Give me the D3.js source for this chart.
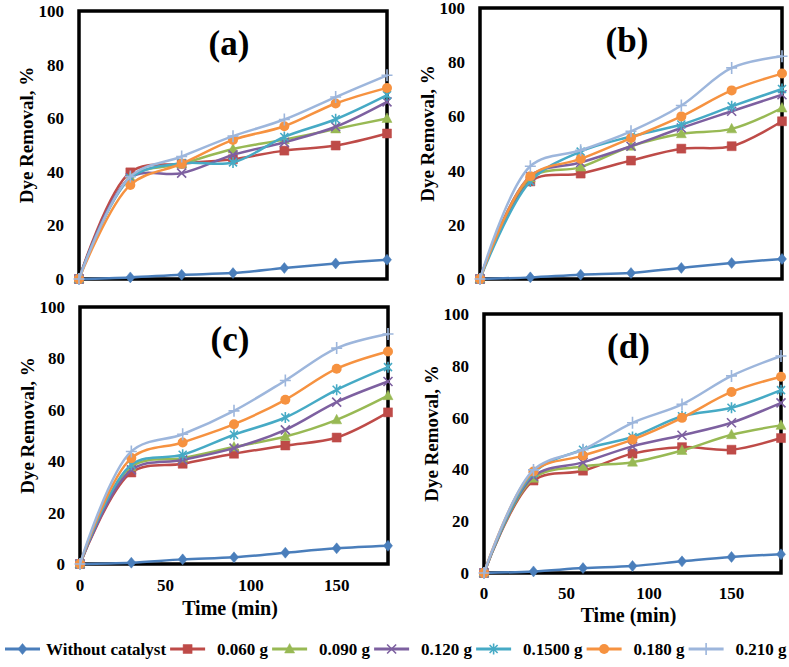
<!DOCTYPE html>
<html>
<head>
<meta charset="utf-8">
<script src="https://cdn.jsdelivr.net/npm/d3@7"></script>
<style>
  body { margin: 0; background: #fff; }
  text { font-family: 'Liberation Serif', 'Times New Roman', serif; font-weight: bold; fill: #000; }
</style>
</head>
<body>
<div class="chart"></div>
<script>
const svgWidth = 789;
const svgHeight = 667;

// x values (min)
const timeMin = [0, 30, 60, 90, 120, 150, 180];
const yTicks = [0, 20, 40, 60, 80, 100];
const xTicks = [0, 50, 100, 150];

const seriesNames = ['Without catalyst', '0.060 g', '0.090 g', '0.120 g', '0.1500 g', '0.180 g', '0.210 g'];
const seriesColors = ['#4a7ebb', '#be4b48', '#98b954', '#7d60a0', '#46aac5', '#f69240', '#9db6dc'];
const seriesMarkers = ['diamond', 'square', 'triangle', 'cross', 'star', 'circle', 'plus'];

// one row per series, same order as seriesNames
const panelA = [
  [0, 0.6, 1.6, 2.2, 4.1, 5.8, 7.2],
  [0, 39.8, 43.0, 44.7, 47.9, 49.8, 54.3],
  [0, 38.0, 43.0, 48.5, 52.0, 56.0, 59.9],
  [0, 37.8, 39.5, 46.3, 51.0, 56.8, 66.1],
  [0, 37.6, 43.2, 43.5, 53.0, 59.6, 68.6],
  [0, 35.1, 43.0, 51.9, 57.0, 65.5, 71.3],
  [0, 38.2, 45.7, 53.3, 59.5, 67.9, 76.0]
];
const panelB = [
  [0, 0.6, 1.6, 2.2, 4.1, 5.9, 7.4],
  [0, 36.0, 38.9, 43.7, 48.1, 49.0, 58.2],
  [0, 37.3, 41.3, 49.0, 53.6, 55.4, 63.1],
  [0, 37.9, 43.0, 49.0, 55.7, 61.9, 68.0],
  [0, 36.0, 47.0, 52.6, 57.0, 63.7, 70.1],
  [0, 37.9, 44.3, 52.0, 60.0, 69.6, 75.8],
  [0, 41.6, 47.5, 54.5, 64.0, 77.9, 82.2]
];
const panelC = [
  [0, 0.5, 1.8, 2.6, 4.4, 6.1, 7.1],
  [0, 35.6, 39.0, 42.9, 46.1, 49.2, 59.0],
  [0, 37.9, 41.2, 45.5, 49.6, 56.1, 65.5],
  [0, 36.6, 40.5, 45.1, 52.2, 63.0, 71.0],
  [0, 38.6, 42.5, 50.3, 57.0, 67.8, 76.6],
  [0, 41.2, 47.3, 54.4, 63.9, 76.0, 82.7],
  [0, 43.8, 50.5, 59.6, 71.4, 84.0, 89.5]
];
const panelD = [
  [0, 0.6, 1.9, 2.7, 4.5, 6.2, 7.2],
  [0, 35.7, 39.5, 46.1, 48.6, 47.6, 52.1],
  [0, 36.6, 41.1, 42.8, 47.3, 53.4, 57.0],
  [0, 37.3, 42.7, 48.9, 53.2, 58.0, 65.7],
  [0, 38.6, 47.6, 52.5, 60.5, 63.8, 70.6],
  [0, 39.2, 45.3, 51.5, 59.9, 69.9, 75.8],
  [0, 39.8, 47.6, 58.0, 65.1, 76.1, 83.8]
];

// frame box of each panel
const panels = [
  { label: '(a)', data: panelA, left: 79, top: 11, right: 387, bottom: 279, xAxis: false },
  { label: '(b)', data: panelB, left: 480, top: 8, right: 782, bottom: 279, xAxis: false },
  { label: '(c)', data: panelC, left: 80, top: 307, right: 388, bottom: 564, xAxis: true, tickY: 591, titleY: 615 },
  { label: '(d)', data: panelD, left: 484, top: 314, right: 781, bottom: 573, xAxis: true, tickY: 599, titleY: 622 }
];

const svg = d3.select('.chart')
  .append('svg')
  .attr('width', svgWidth)
  .attr('height', svgHeight);

const markerPaths = {
  diamond: 'M0,-5.5L4.5,0L0,5.5L-4.5,0Z',
  square: 'M-4.5,-4.5H4.5V4.5H-4.5Z',
  triangle: 'M0,-5.5L5,4L-5,4Z',
  cross: 'M-4.5,-4.5L4.5,4.5M-4.5,4.5L4.5,-4.5',
  star: 'M-4,-4L4,4M-4,4L4,-4M0,-5.5V5.5',
  plus: 'M-5.5,0H5.5M0,-6V6'
};

function drawMarker(g, shape, x, y, color) {
  if (shape === 'circle') {
    g.append('circle')
      .attr('cx', x)
      .attr('cy', y)
      .attr('r', 5)
      .attr('fill', color);
    return;
  }
  const stroked = shape === 'cross' || shape === 'star' || shape === 'plus';
  g.append('path')
    .attr('transform', `translate(${x},${y})`)
    .attr('d', markerPaths[shape])
    .attr('fill', stroked ? 'none' : color)
    .attr('stroke', color)
    .attr('stroke-width', stroked ? 1.6 : 0.5);
}

panels.forEach(p => {
  const xScale = d3.scaleLinear().domain([0, 180]).range([p.left, p.right]);
  const yScale = d3.scaleLinear().domain([0, 100]).range([p.bottom, p.top]);
  const g = svg.append('g');

  // frame
  g.append('rect')
    .attr('x', p.left)
    .attr('y', p.top)
    .attr('width', p.right - p.left)
    .attr('height', p.bottom - p.top)
    .attr('fill', 'none')
    .attr('stroke', '#000')
    .attr('stroke-width', 3.5);

  // y tick labels
  g.selectAll('.ytick')
    .data(yTicks)
    .enter()
    .append('text')
    .attr('x', p.left - 15)
    .attr('y', d => yScale(d))
    .attr('dy', '0.35em')
    .attr('text-anchor', 'end')
    .style('font-size', '17px')
    .text(d => d);

  g.append('text')
    .attr('transform', `translate(${p.left - 46}, ${(p.top + p.bottom) / 2 - 10}) rotate(-90)`)
    .attr('text-anchor', 'middle')
    .style('font-size', '19px')
    .text('Dye Removal, %');

  if (p.xAxis) {
    g.selectAll('.xtick')
      .data(xTicks)
      .enter()
      .append('text')
      .attr('x', d => xScale(d))
      .attr('y', p.tickY)
      .attr('text-anchor', 'middle')
      .style('font-size', '17px')
      .text(d => d);
    g.append('text')
      .attr('x', xScale(90) - 4)
      .attr('y', p.titleY)
      .attr('text-anchor', 'middle')
      .style('font-size', '20px')
      .text('Time (min)');
  }

  g.append('text')
    .attr('x', (p.left + p.right) / 2 - 4)
    .attr('y', p.top + 44)
    .attr('text-anchor', 'middle')
    .style('font-size', '35px')
    .text(p.label);

  const line = d3.line()
    .x((d, i) => xScale(timeMin[i]))
    .y(d => yScale(d))
    .curve(d3.curveCatmullRom);

  p.data.forEach((values, s) => {
    g.append('path')
      .attr('d', line(values))
      .attr('fill', 'none')
      .attr('stroke', seriesColors[s])
      .attr('stroke-width', 2.5);
    values.forEach((v, i) => drawMarker(g, seriesMarkers[s], xScale(timeMin[i]), yScale(v), seriesColors[s]));
  });
});

// legend along the bottom
const legend = svg.append('g');
const legendY = 649;
let cursor = 5;
seriesNames.forEach((name, s) => {
  legend.append('line')
    .attr('x1', cursor)
    .attr('x2', cursor + 35)
    .attr('y1', legendY)
    .attr('y2', legendY)
    .attr('stroke', seriesColors[s])
    .attr('stroke-width', 3);
  drawMarker(legend, seriesMarkers[s], cursor + 17.5, legendY, seriesColors[s]);
  const gap = s === 0 ? 6 : 12;
  const label = legend.append('text')
    .attr('x', cursor + 35 + gap)
    .attr('y', legendY + 6)
    .style('font-size', '17px')
    .text(name);
  cursor += 35 + gap + label.node().getComputedTextLength() + 4;
});
</script>
</body>
</html>
